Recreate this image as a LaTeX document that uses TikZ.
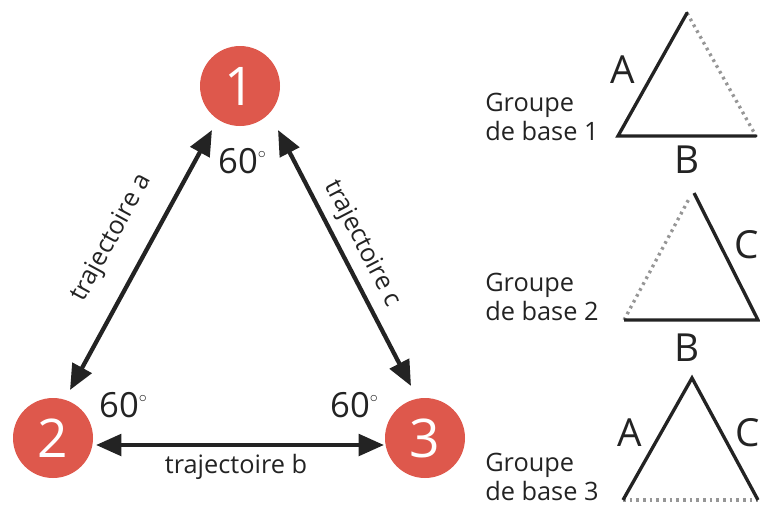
\documentclass[tikz,border=0pt]{standalone}
\usepackage{fontspec}
\setmainfont{Open Sans}
\usetikzlibrary{arrows.meta}
\definecolor{circ}{RGB}{222,88,76}
\definecolor{ink}{RGB}{35,35,35}
\definecolor{dotgray}{RGB}{150,150,150}
\newcommand{\mydeg}{\raisebox{0.42em}{\fontsize{12}{12}\selectfont$\circ$}}
\begin{document}
\begin{tikzpicture}[x=0.75pt,y=-0.75pt,
  num/.style={circle,fill=circ,minimum size=60pt,inner sep=0pt,text=white,font=\fontsize{40}{40}\selectfont},
  arr/.style={draw=ink,line width=3.2pt,{Triangle[length=19pt,width=16pt]}-{Triangle[length=19pt,width=16pt]}},
  deg/.style={font=\fontsize{26}{26}\selectfont,text=ink,inner sep=0pt},
  traj/.style={font=\fontsize{19}{19}\selectfont,text=ink,inner sep=0pt},
  grp/.style={font=\fontsize{19}{22}\selectfont,align=left,anchor=west,text=ink,inner sep=0pt},
  side/.style={line width=2.5pt,draw=ink},
  dside/.style={line width=2.5pt,draw=dotgray,dash pattern=on 2pt off 3pt},
  letter/.style={font=\fontsize{29}{29}\selectfont,text=ink,inner sep=0pt}
]
\useasboundingbox (0,0) rectangle (760,511);
% circles
\node[num] (n1) at (240,86) {1};
\node[num] (n2) at (53,438) {2};
\node[num] (n3) at (425,438) {3};
% arrow ends
\coordinate (a1) at (212,130);
\coordinate (a2) at (70,390);
\coordinate (c1) at (278,130);
\coordinate (c2) at (411,386);
\coordinate (b1) at (96,445);
\coordinate (b2) at (384,445);
\draw[arr] (a1) -- (a2);
\draw[arr] (c1) -- (c2);
\draw[arr] (b1) -- (b2);
% angles
\node[deg] (g1) at (242,161) {60\mydeg};
\node[deg] (g2) at (123,405) {60\mydeg};
\node[deg] (g3) at (354,405) {60\mydeg};
% trajectory labels
\node[traj,rotate=61.5] (ta) at (112,238) {trajectoire a};
\node[traj,rotate=-62.5] (tc) at (362,244) {trajectoire c};
\node[traj] (tb) at (236,467) {trajectoire b};
% group 1
\node[grp] (gr1) at (485,117) {Groupe\\de base 1};
\coordinate (t1l) at (618,136);
\coordinate (t1t) at (687,13);
\coordinate (t1r) at (756,136);
\draw[dside] (t1t) -- (t1r);
\draw[side,line cap=round] (t1t) -- (t1l) -- (t1r);
\node[letter] (A1) at (623,70) {A};
\node[letter] (B1) at (687,160) {B};
% group 2
\node[grp] (gr2) at (485,297) {Groupe\\de base 2};
\coordinate (t2l) at (624,320);
\coordinate (t2t) at (690,197);
\coordinate (t2s) at (694,193);
\coordinate (t2r) at (758,320);
\draw[dside] (t2l) -- (t2t);
\draw[side] (t2s) -- (t2r) -- (t2l);
\node[letter] (C2) at (747,245) {C};
\node[letter] (B2) at (687,348) {B};
% group 3
\node[grp] (gr3) at (485,477) {Groupe\\de base 3};
\coordinate (t3l) at (623,500);
\coordinate (t3t) at (692,378);
\coordinate (t3r) at (758,500);
\draw[dside] (t3l) -- (t3r);
\draw[side] (t3l) -- (t3t) -- (t3r);
\node[letter] (A3) at (630,433) {A};
\node[letter] (C3) at (748,433) {C};
\end{tikzpicture}
\end{document}
